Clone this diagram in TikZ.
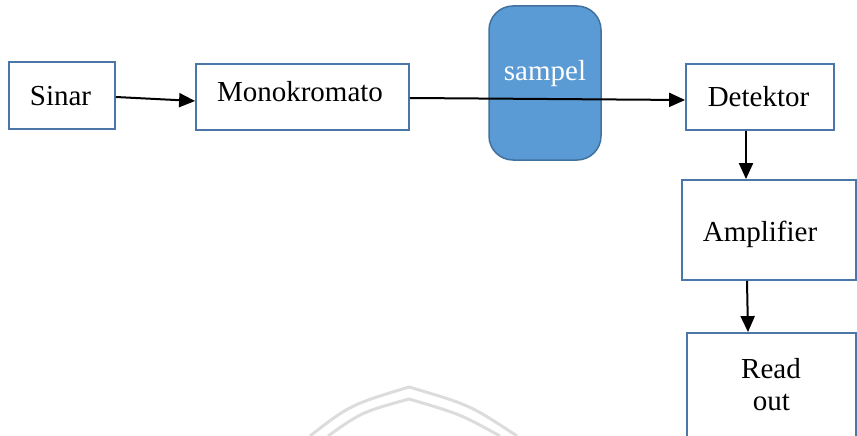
\documentclass[tikz,border=0pt]{standalone}
\usepackage{fontspec}
\setmainfont{Liberation Serif}
\usetikzlibrary{arrows.meta}
\definecolor{boxline}{HTML}{4A76A8}
\definecolor{samplefill}{HTML}{5B9BD5}
\definecolor{sampleline}{HTML}{41719C}
\definecolor{markgray}{HTML}{DCDCDC}
\tikzset{
  block/.style={draw=boxline, line width=1.8pt, fill=white, inner sep=0pt},
  caption/.style={anchor=base, inner sep=0pt, font=\fontsize{29}{34}\selectfont},
  flow/.style={line width=2pt, -{Triangle[length=16pt,width=14pt]}},
  archline/.style={draw=markgray, line width=3pt}
}
\begin{document}
\begin{tikzpicture}[x=1pt,y=-1pt]
  \useasboundingbox (0,0) rectangle (857,436);

  % faint arch in the background
  \draw[archline] (310,436) .. controls (350,405) .. (409,387) .. controls (470,405) .. (517,436);
  \draw[archline] (328,436) .. controls (362,412) .. (409,399) .. controls (460,414) .. (500,436);

  % sample cell
  \node[draw=sampleline, line width=1.5pt, fill=samplefill, rounded corners=24pt,
        minimum width=112pt, minimum height=154pt, inner sep=0pt] (sampel) at (545,83) {};
  \node[caption, text=white] (sampeltext) at (545,81) {sampel};

  % blocks
  \node[block, minimum width=106pt, minimum height=67pt] (sinar) at (62,95.5) {};
  \node[block, minimum width=213pt, minimum height=66pt] (mono) at (302.5,97) {};
  \node[block, minimum width=148pt, minimum height=66pt] (det) at (760,97) {};
  \node[block, minimum width=174pt, minimum height=100pt] (amp) at (769,230) {};
  \node[block, minimum width=169pt, minimum height=106pt] (read) at (771.5,386) {};

  % block labels
  \node[caption] (sinartext) at (60.5,105) {Sinar};
  \node[caption] (monotext) at (300,101.7) {Monokromato};
  \node[caption] (dettext) at (758.5,106.7) {Detektor};
  \node[caption] (amptext) at (760,241) {Amplifier};
  \node[caption] (readtext) at (771,378) {Read};
  \node[caption] (outtext) at (771.5,410) {out};

  % connectors
  \draw[flow] ([yshift=-1.5pt]sinar.east) -- ([yshift=-4pt]mono.west);
  \draw[flow] ([yshift=-1pt]mono.east) -- ([yshift=-3pt]det.west);
  \draw[flow] ([xshift=-14pt]det.south) -- ([xshift=-23pt]amp.north);
  \draw[flow] ([xshift=-22pt]amp.south) -- ([xshift=-23.5pt]read.north);
\end{tikzpicture}
\end{document}
